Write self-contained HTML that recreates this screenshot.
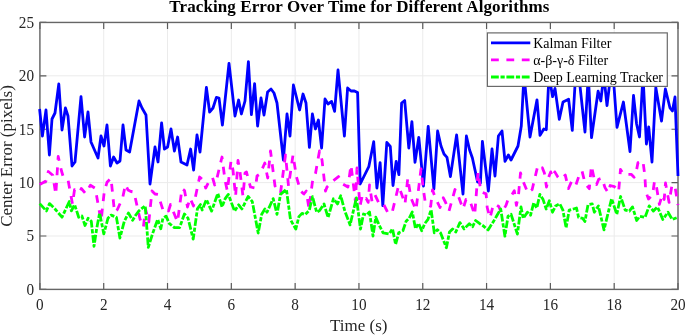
<!DOCTYPE html>
<html><head><meta charset="utf-8"><style>
html,body{margin:0;padding:0;background:#fff;}
svg{display:block;font-family:"Liberation Serif",serif;will-change:transform;}
</style></head><body>
<svg width="685" height="335" viewBox="0 0 685 335">
<rect width="685" height="335" fill="#fff"/>
<g stroke="#ebebeb" stroke-width="1" fill="none"><line x1="39.90" y1="22.45" x2="39.90" y2="289.40"/><line x1="103.71" y1="22.45" x2="103.71" y2="289.40"/><line x1="167.52" y1="22.45" x2="167.52" y2="289.40"/><line x1="231.33" y1="22.45" x2="231.33" y2="289.40"/><line x1="295.14" y1="22.45" x2="295.14" y2="289.40"/><line x1="358.95" y1="22.45" x2="358.95" y2="289.40"/><line x1="422.76" y1="22.45" x2="422.76" y2="289.40"/><line x1="486.57" y1="22.45" x2="486.57" y2="289.40"/><line x1="550.38" y1="22.45" x2="550.38" y2="289.40"/><line x1="614.19" y1="22.45" x2="614.19" y2="289.40"/><line x1="678.00" y1="22.45" x2="678.00" y2="289.40"/><line x1="39.90" y1="289.40" x2="678.00" y2="289.40"/><line x1="39.90" y1="236.01" x2="678.00" y2="236.01"/><line x1="39.90" y1="182.62" x2="678.00" y2="182.62"/><line x1="39.90" y1="129.23" x2="678.00" y2="129.23"/><line x1="39.90" y1="75.84" x2="678.00" y2="75.84"/><line x1="39.90" y1="22.45" x2="678.00" y2="22.45"/></g>
<path d="M39.90,289.40v-6.5 M39.90,22.45v6.5 M103.71,289.40v-6.5 M103.71,22.45v6.5 M167.52,289.40v-6.5 M167.52,22.45v6.5 M231.33,289.40v-6.5 M231.33,22.45v6.5 M295.14,289.40v-6.5 M295.14,22.45v6.5 M358.95,289.40v-6.5 M358.95,22.45v6.5 M422.76,289.40v-6.5 M422.76,22.45v6.5 M486.57,289.40v-6.5 M486.57,22.45v6.5 M550.38,289.40v-6.5 M550.38,22.45v6.5 M614.19,289.40v-6.5 M614.19,22.45v6.5 M678.00,289.40v-6.5 M678.00,22.45v6.5 M39.90,289.40h6.5 M678.00,289.40h-6.5 M39.90,236.01h6.5 M678.00,236.01h-6.5 M39.90,182.62h6.5 M678.00,182.62h-6.5 M39.90,129.23h6.5 M678.00,129.23h-6.5 M39.90,75.84h6.5 M678.00,75.84h-6.5 M39.90,22.45h6.5 M678.00,22.45h-6.5" stroke="#5a5a5a" stroke-width="1.2" fill="none"/>
<rect x="39.90" y="22.45" width="638.10" height="266.95" fill="none" stroke="#666" stroke-width="1.4"/>
<g fill="none" stroke-linejoin="round" stroke-linecap="butt">
<path d="M39.6,109.0 L42.4,136.0 L46.0,110.0 L49.4,155.0 L52.0,119.0 L55.0,113.0 L58.8,84.0 L62.0,130.0 L65.4,108.0 L68.0,116.0 L72.0,166.0 L75.0,162.0 L81.0,96.6 L84.6,137.0 L88.0,112.0 L91.0,142.0 L98.0,158.0 L101.0,136.0 L104.0,146.0 L107.0,125.0 L110.4,166.0 L113.6,157.0 L117.0,163.0 L120.0,161.0 L123.0,125.0 L126.0,150.0 L129.6,152.0 L139.0,101.0 L142.0,108.0 L146.0,115.0 L150.0,184.0 L155.0,147.0 L158.0,162.0 L161.6,123.0 L164.4,149.0 L167.6,147.0 L171.0,129.0 L174.4,151.0 L177.6,137.0 L181.0,162.0 L187.0,165.0 L190.6,149.0 L193.6,170.0 L197.0,135.0 L200.0,152.0 L206.4,87.4 L209.6,112.0 L213.0,108.0 L216.4,97.4 L219.0,98.0 L222.4,125.0 L229.0,63.4 L235.0,116.0 L238.6,100.0 L241.4,114.0 L245.0,101.0 L248.4,61.6 L251.4,114.6 L254.6,83.6 L257.6,126.0 L261.0,98.0 L264.0,115.0 L267.6,92.0 L271.0,89.0 L274.0,93.0 L277.0,103.0 L283.4,160.0 L287.0,114.0 L290.0,136.0 L293.4,85.0 L296.4,97.0 L299.6,110.0 L303.0,94.0 L306.0,103.0 L309.4,147.4 L312.4,114.0 L315.4,129.0 L318.4,120.0 L321.6,148.0 L325.0,99.0 L328.0,104.0 L331.6,101.4 L334.6,111.4 L338.0,70.0 L344.4,136.0 L347.6,88.0 L351.0,91.0 L354.4,91.0 L357.6,92.6 L360.2,184.0 L368.8,166.7 L373.7,141.7 L376.9,188.0 L380.1,162.6 L382.8,205.6 L386.8,142.5 L390.3,146.5 L393.0,185.5 L396.2,161.3 L398.9,174.7 L401.6,103.0 L404.7,100.6 L408.8,148.0 L411.9,121.6 L415.0,162.4 L418.8,137.3 L423.5,186.0 L428.2,126.3 L433.9,189.0 L437.6,131.0 L441.0,146.0 L444.0,154.0 L447.0,157.4 L450.4,176.6 L456.6,135.0 L463.0,194.0 L466.4,136.0 L469.6,150.0 L472.4,158.0 L477.6,182.0 L480.4,183.0 L482.4,141.4 L488.4,191.0 L492.0,149.0 L495.0,176.0 L498.4,136.0 L502.0,131.0 L505.0,161.4 L508.4,155.0 L511.0,160.0 L518.0,146.0 L521.3,126.0 L524.0,75.0 L530.0,137.0 L537.0,99.8 L540.0,135.4 L543.8,129.0 L546.3,129.7 L549.0,75.0 L552.6,96.7 L555.0,88.4 L559.3,119.3 L563.0,102.0 L568.6,99.2 L572.3,130.4 L575.6,75.0 L578.8,75.0 L585.0,132.0 L588.3,75.0 L591.5,137.7 L598.1,91.2 L600.8,101.0 L603.8,75.0 L607.0,105.5 L610.7,75.0 L613.9,85.0 L617.0,127.4 L623.4,102.0 L630.0,151.5 L633.5,95.5 L636.6,124.0 L639.5,137.0 L643.0,75.0 L646.4,144.0 L648.7,127.0 L652.0,162.0 L655.8,87.5 L661.5,121.0 L665.4,89.0 L670.0,108.0 L672.4,111.0 L675.0,97.0 L678.0,176.0" stroke="#0000ff" stroke-width="2.8"/>
<path d="M39.7,184.5 L46.0,181.0 L48.3,171.5 L52.8,175.3 L55.8,194.5 L58.2,156.5 L61.5,171.0 L63.0,176.0 L68.0,179.8 L72.5,204.0 L74.5,189.7 L79.7,192.5 L81.3,188.5 L85.5,193.5 L90.4,185.3 L95.3,188.3 L101.0,221.0 L104.3,191.3 L107.0,182.3 L111.0,178.2 L114.5,212.0 L117.4,209.5 L122.6,198.0 L125.5,184.5 L128.0,190.0 L131.0,191.5 L134.0,192.0 L137.5,208.0 L140.0,219.0 L143.4,227.0 L145.5,209.0 L148.8,222.0 L152.0,191.0 L155.0,194.0 L158.0,194.5 L163.0,210.0 L165.5,208.0 L168.5,211.0 L170.5,204.5 L177.5,222.0 L182.0,188.5 L184.5,190.5 L187.5,207.0 L190.0,198.0 L193.5,206.0 L199.6,177.0 L203.5,180.5 L205.7,188.0 L209.0,181.5 L212.5,177.5 L214.7,185.0 L217.0,178.0 L222.0,157.0 L225.0,180.0 L227.3,191.0 L231.0,161.0 L233.0,170.0 L235.6,196.5 L238.0,160.5 L240.0,172.0 L243.0,196.5 L245.0,173.0 L246.5,172.0 L248.5,180.0 L250.5,187.0 L255.5,188.0 L257.0,176.0 L260.0,174.0 L264.8,163.0 L267.7,178.0 L270.5,151.0 L275.0,186.0 L280.5,193.0 L285.5,155.0 L288.5,186.0 L293.0,155.0 L296.5,177.0 L300.6,191.0 L303.9,194.0 L306.3,191.0 L309.0,209.0 L312.4,182.0 L315.5,173.4 L319.5,151.0 L322.0,160.0 L325.5,191.0 L327.0,187.0 L333.3,180.7 L338.5,176.6 L342.7,183.9 L347.9,187.0 L351.0,165.0 L355.5,202.0 L357.0,168.0 L360.0,206.0 L362.3,195.6 L364.3,199.5 L366.2,198.5 L368.2,202.4 L369.5,185.0 L372.0,201.5 L375.0,195.0 L378.5,202.4 L381.7,201.5 L383.7,204.4 L388.0,213.0 L392.0,213.0 L398.5,186.0 L401.5,193.7 L405.0,204.0 L407.8,178.0 L410.9,197.8 L416.0,210.0 L421.0,169.0 L423.4,189.5 L425.5,204.1 L430.7,206.2 L432.5,190.0 L435.0,197.0 L440.0,207.5 L443.3,197.8 L445.4,202.0 L449.0,211.0 L455.0,189.5 L458.0,195.0 L463.0,209.0 L466.0,199.5 L469.4,199.1 L471.5,205.4 L474.7,215.0 L478.0,172.0 L480.9,191.8 L486.1,193.9 L487.2,207.5 L490.0,218.0 L493.4,204.3 L495.5,204.3 L498.7,206.4 L501.5,213.0 L506.0,205.4 L508.1,199.1 L511.2,196.0 L514.3,190.7 L516.4,205.4 L518.5,195.0 L520.5,173.0 L522.7,180.3 L527.9,192.8 L532.1,189.7 L537.5,167.0 L539.4,169.8 L542.3,167.8 L544.4,173.0 L546.5,187.0 L548.6,177.2 L550.7,171.9 L552.8,177.2 L554.8,171.9 L558.0,177.2 L560.1,179.3 L565.3,175.1 L568.4,188.7 L571.6,181.3 L575.7,185.5 L578.9,176.1 L582.0,170.9 L585.1,183.4 L589.3,188.7 L591.4,165.7 L594.5,180.3 L596.6,184.5 L598.7,179.3 L601.9,178.2 L605.0,187.6 L608.1,192.8 L610.2,185.5 L614.4,186.6 L618.6,191.8 L620.5,169.4 L623.4,174.3 L627.3,174.3 L631.2,174.3 L634.1,177.2 L636.1,172.3 L638.0,162.6 L642.9,160.7 L644.8,175.2 L645.8,191.7 L648.5,199.0 L652.6,194.7 L654.5,181.1 L656.5,186.9 L659.4,204.4 L662.3,194.7 L664.2,199.5 L665.5,183.0 L669.1,202.4 L672.0,185.0 L674.9,186.0 L678.0,205.0" stroke="#ff00ff" stroke-width="2.8" stroke-dasharray="7.8 7.6"/>
<path d="M39.7,203.6 L46.4,210.9 L49.5,203.6 L55.0,209.0 L62.0,217.2 L69.3,201.5 L71.4,210.9 L74.6,204.6 L78.7,217.2 L81.9,216.0 L85.0,225.5 L88.1,218.2 L91.3,221.3 L94.0,246.4 L96.5,229.7 L99.6,213.0 L103.8,233.9 L108.0,218.2 L111.1,215.1 L116.4,217.2 L119.9,238.0 L124.3,221.3 L128.4,213.0 L132.6,220.3 L135.8,215.0 L138.9,210.9 L145.2,205.7 L148.3,247.3 L152.5,233.9 L157.7,219.3 L160.8,228.7 L162.9,218.2 L166.1,216.1 L169.2,223.4 L174.4,227.6 L179.6,227.6 L184.4,214.0 L188.0,218.2 L193.2,239.1 L197.4,208.8 L200.5,204.6 L202.2,210.0 L206.4,199.6 L211.6,211.1 L217.8,193.4 L222.0,206.9 L225.2,198.6 L228.3,194.4 L234.6,211.1 L238.7,204.8 L241.9,209.0 L248.1,196.5 L252.3,201.7 L258.2,233.1 L261.7,214.3 L264.9,209.0 L267.0,212.2 L273.2,198.6 L277.0,214.3 L280.5,194.4 L286.4,189.4 L290.5,219.7 L295.8,229.1 L298.9,216.6 L302.0,213.4 L305.2,214.5 L309.3,210.3 L312.5,196.7 L316.7,212.4 L319.8,210.3 L324.0,204.0 L328.1,217.6 L333.4,198.8 L337.5,204.0 L340.7,195.7 L344.9,211.3 L350.1,224.9 L356.4,197.8 L360.5,229.1 L363.5,214.0 L366.4,215.1 L369.5,211.9 L373.0,236.0 L375.8,217.2 L378.9,224.5 L383.1,232.8 L389.3,233.9 L392.5,228.7 L395.6,244.3 L398.7,232.8 L402.9,230.7 L406.1,221.3 L409.2,218.2 L412.3,211.9 L415.5,228.7 L418.6,223.4 L421.7,230.7 L424.9,223.4 L428.0,219.3 L431.1,209.8 L434.3,232.8 L437.4,229.7 L440.5,232.8 L446.4,247.7 L449.5,232.0 L452.6,228.9 L455.8,232.0 L459.9,222.6 L464.1,228.9 L469.3,223.7 L472.5,226.8 L475.6,220.5 L479.8,223.7 L482.9,225.7 L488.1,229.9 L493.4,221.6 L496.5,216.3 L500.7,209.0 L504.9,236.2 L508.0,216.3 L511.1,214.3 L517.4,234.1 L521.0,206.9 L523.2,218.4 L527.4,212.2 L530.5,215.3 L533.7,202.8 L536.8,208.0 L539.9,194.4 L543.1,199.6 L546.2,209.0 L549.3,200.7 L552.5,212.2 L555.6,205.9 L559.8,203.8 L562.9,210.1 L566.1,227.8 L569.2,210.1 L573.4,209.0 L576.5,208.0 L578.6,217.4 L582.8,218.4 L584.9,221.6 L588.0,204.8 L592.2,203.8 L594.3,212.2 L598.4,205.9 L604.0,229.9 L611.6,198.6 L616.8,214.3 L620.6,196.5 L625.2,210.1 L629.3,211.1 L632.5,206.9 L636.7,220.5 L639.8,216.3 L645.0,217.4 L649.2,205.9 L653.4,211.1 L657.5,206.9 L662.8,219.5 L668.0,212.2 L672.2,219.5 L677.5,217.4" stroke="#00ff00" stroke-width="2.8" stroke-dasharray="7.8 1.7 4.2 1.7"/>
</g>
<g font-size="16.2" fill="#262626" text-anchor="middle"><text transform="translate(39.90,310.1) scale(0.94,1)">0</text><text transform="translate(103.71,310.1) scale(0.94,1)">2</text><text transform="translate(167.52,310.1) scale(0.94,1)">4</text><text transform="translate(231.33,310.1) scale(0.94,1)">6</text><text transform="translate(295.14,310.1) scale(0.94,1)">8</text><text transform="translate(358.95,310.1) scale(0.94,1)">10</text><text transform="translate(422.76,310.1) scale(0.94,1)">12</text><text transform="translate(486.57,310.1) scale(0.94,1)">14</text><text transform="translate(550.38,310.1) scale(0.94,1)">16</text><text transform="translate(614.19,310.1) scale(0.94,1)">18</text><text transform="translate(678.00,310.1) scale(0.94,1)">20</text></g>
<g font-size="16.2" fill="#262626" text-anchor="end"><text transform="translate(34.0,294.85) scale(0.94,1)">0</text><text transform="translate(34.0,241.46) scale(0.94,1)">5</text><text transform="translate(34.0,188.07) scale(0.94,1)">10</text><text transform="translate(34.0,134.68) scale(0.94,1)">15</text><text transform="translate(34.0,81.29) scale(0.94,1)">20</text><text transform="translate(34.0,27.90) scale(0.94,1)">25</text></g>
<text x="358.8" y="331.1" font-size="17" fill="#262626" text-anchor="middle">Time (s)</text>
<text transform="translate(12,156) rotate(-90)" font-size="17" fill="#262626" text-anchor="middle">Center Error (pixels)</text>
<text x="359.4" y="12.0" font-size="17" letter-spacing="0.1" font-weight="bold" fill="#000" text-anchor="middle">Tracking Error Over Time for Different Algorithms</text>
<g>
<rect x="487.4" y="32.9" width="179.9" height="53.5" fill="#fff" stroke="#6a6a6a" stroke-width="1.2"/>
<line x1="491" y1="42.9" x2="530.3" y2="42.9" stroke="#0000ff" stroke-width="2.8"/>
<line x1="491" y1="59.9" x2="530.3" y2="59.9" stroke="#ff00ff" stroke-width="2.8" stroke-dasharray="7.8 7.6"/>
<line x1="491" y1="77" x2="530.3" y2="77" stroke="#00ff00" stroke-width="2.8" stroke-dasharray="7.8 1.7 4.2 1.7"/>
<g font-size="14" fill="#000">
<text x="533.2" y="48.4">Kalman Filter</text>
<text x="533.2" y="65.3">α-β-γ-δ Filter</text>
<text x="533.2" y="81.9">Deep Learning Tracker</text>
</g>
</g>
</svg>
</body></html>
